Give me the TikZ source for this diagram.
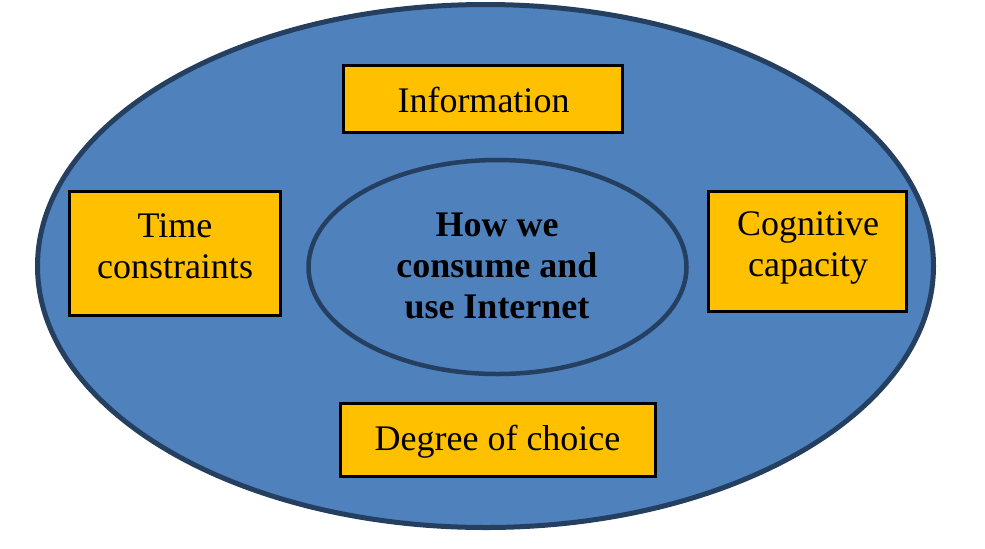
\documentclass[tikz,border=0pt]{standalone}
\usepackage{fontspec}
\setmainfont{Liberation Serif}
\usepackage{tikz}

\definecolor{ringblue}{HTML}{4F81BD}
\definecolor{ringedge}{HTML}{243F60}
\definecolor{tagyellow}{HTML}{FFC000}

\begin{document}
\begin{tikzpicture}[x = 0.5pt, y = -0.5pt,
        font = \fontsize{18}{20.7}\selectfont,
        ring/.style = {fill = ringblue, draw = ringedge},
        tagbox/.style = {fill = tagyellow, draw = black, line width = 1.5pt},
        tagtext/.style = {align = center, inner sep = 0pt}]
        \useasboundingbox (0,0) rectangle (985,548);

        \draw [ring, line width = 2.5pt] (485.5,266) ellipse [x radius = 224pt, y radius = 130.75pt];
        \draw [ring, line width = 2.25pt] (497.5,267) ellipse [x radius = 94.5pt, y radius = 53.5pt];

        \draw [tagbox] (343.5,65.5) rectangle (622.5,132.5);
        \draw [tagbox] (69.5,191.5) rectangle (280.5,315.5);
        \draw [tagbox] (708.5,191.5) rectangle (906.5,311.5);
        \draw [tagbox] (340.5,403.5) rectangle (655.5,476.5);

        \node [tagtext] (info) at (483.5,100) {Information};
        \node [tagtext] (time) at (175,246) {Time\\constraints};
        \node [tagtext] (cognition) at (808,248) {Cognitive\\capacity};
        \node [tagtext] (choice) at (497.5,441.5) {Degree of choice};
        \node [tagtext, font = \fontsize{18}{20.7}\selectfont\bfseries] (core) at (497,266) {How we\\consume and\\use Internet};
    \end{tikzpicture}
\end{document}
